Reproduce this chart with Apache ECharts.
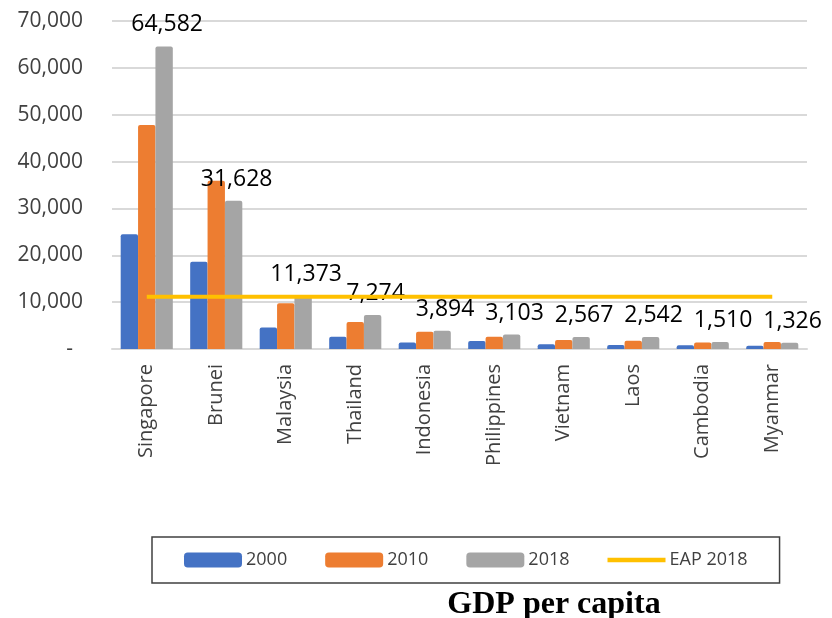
<!DOCTYPE html>
<html>
<head>
<meta charset="utf-8">
<script src="https://cdn.jsdelivr.net/npm/echarts@6/dist/echarts.min.js"></script>
<style>
  html, body { margin: 0; padding: 0; background: #fff; }
  #chart { width: 832px; height: 618px; }
</style>
</head>
<body>
<div id="chart"></div>
<script>
// GDP per capita (USD), ASEAN members
const countries = ['Singapore', 'Brunei', 'Malaysia', 'Thailand', 'Indonesia',
                   'Philippines', 'Vietnam', 'Laos', 'Cambodia', 'Myanmar'];
const gdp2000 = [24500, 18600, 4600, 2600, 1400, 1700, 1000, 850, 800, 700];
const gdp2010 = [47800, 35900, 9750, 5760, 3700, 2600, 1900, 1750, 1400, 1500];
const gdp2018 = [64582, 31628, 11373, 7274, 3894, 3103, 2567, 2542, 1510, 1326];
// East Asia & Pacific average, 2018
const eap2018 = [11143, 11143, 11143, 11143, 11143, 11143, 11143, 11143, 11143, 11143];
const yTicks = { min: 0, max: 70000, interval: 10000 };

const fontUI = '"Open Sans", sans-serif';
const textGrey = '#404040';
const fmt = v => v.toLocaleString('en-US');

const chart = echarts.init(document.getElementById('chart'));

const barSeries = (name, data, color, withLabel) => ({
  name, type: 'bar', data,
  barGap: '0%', barCategoryGap: '25%',
  itemStyle: { color, borderRadius: [2, 2, 0, 0] },
  label: withLabel ? {
    show: true, position: 'top', distance: 10, offset: [3, 0],
    formatter: p => fmt(p.value),
    fontFamily: fontUI, fontSize: 23, color: '#000'
  } : { show: false },
  z: 2
});

chart.setOption({
  animation: false,
  textStyle: { fontFamily: fontUI },
  grid: { left: 112, right: 25, top: 21, bottom: 269 },
  title: {
    text: 'GDP per capita',
    left: 549, textAlign: 'center', top: 584,
    textStyle: { fontFamily: '"Liberation Serif", serif', fontWeight: 'bold', fontSize: 32, color: '#000' }
  },
  legend: {
    left: 152, top: 537,
    padding: [14, 32, 14, 32],
    itemGap: 38, itemWidth: 58, itemHeight: 15,
    borderColor: '#404040', borderWidth: 1.5,
    textStyle: { fontFamily: fontUI, fontSize: 18, color: textGrey, padding: [0, 0, 0, -1] },
    data: [
      { name: '2000', icon: 'roundRect' },
      { name: '2010', icon: 'roundRect' },
      { name: '2018', icon: 'roundRect' },
      { name: 'EAP 2018', icon: 'path://M2,6.5 L56,6.5 L56,10.5 L2,10.5 Z', itemStyle: { color: '#FFC000' } }
    ]
  },
  xAxis: {
    type: 'category', data: countries,
    axisTick: { show: false },
    axisLine: { lineStyle: { color: '#d9d9d9', width: 2 } },
    axisLabel: { rotate: 90, margin: 15, fontSize: 20, color: textGrey, fontFamily: fontUI }
  },
  yAxis: {
    type: 'value', min: yTicks.min, max: yTicks.max, interval: yTicks.interval,
    axisLine: { show: false }, axisTick: { show: false },
    splitLine: { lineStyle: { color: '#d9d9d9', width: 2 } },
    axisLabel: {
      margin: 29, fontSize: 21, color: textGrey, fontFamily: fontUI,
      formatter: v => v === 0 ? '{d|-}' : fmt(v),
      rich: { d: { fontSize: 21, color: textGrey, padding: [0, 10, 0, 0] } }
    }
  },
  series: [
    barSeries('2000', gdp2000, '#4472C4', false),
    barSeries('2010', gdp2010, '#ED7D31', false),
    barSeries('2018', gdp2018, '#A5A5A5', true),
    {
      name: 'EAP 2018', type: 'line', data: eap2018,
      symbol: 'none', z: 5,
      lineStyle: { color: '#FFC000', width: 4 },
      itemStyle: { color: '#FFC000' },
      label: {
        show: true, position: 'top', distance: 18, offset: [10, 0],
        formatter: p => p.dataIndex === eap2018.length - 1 ? fmt(p.value) : '',
        fontFamily: fontUI, fontSize: 23, color: '#000'
      }
    }
  ]
});
</script>
</body>
</html>
